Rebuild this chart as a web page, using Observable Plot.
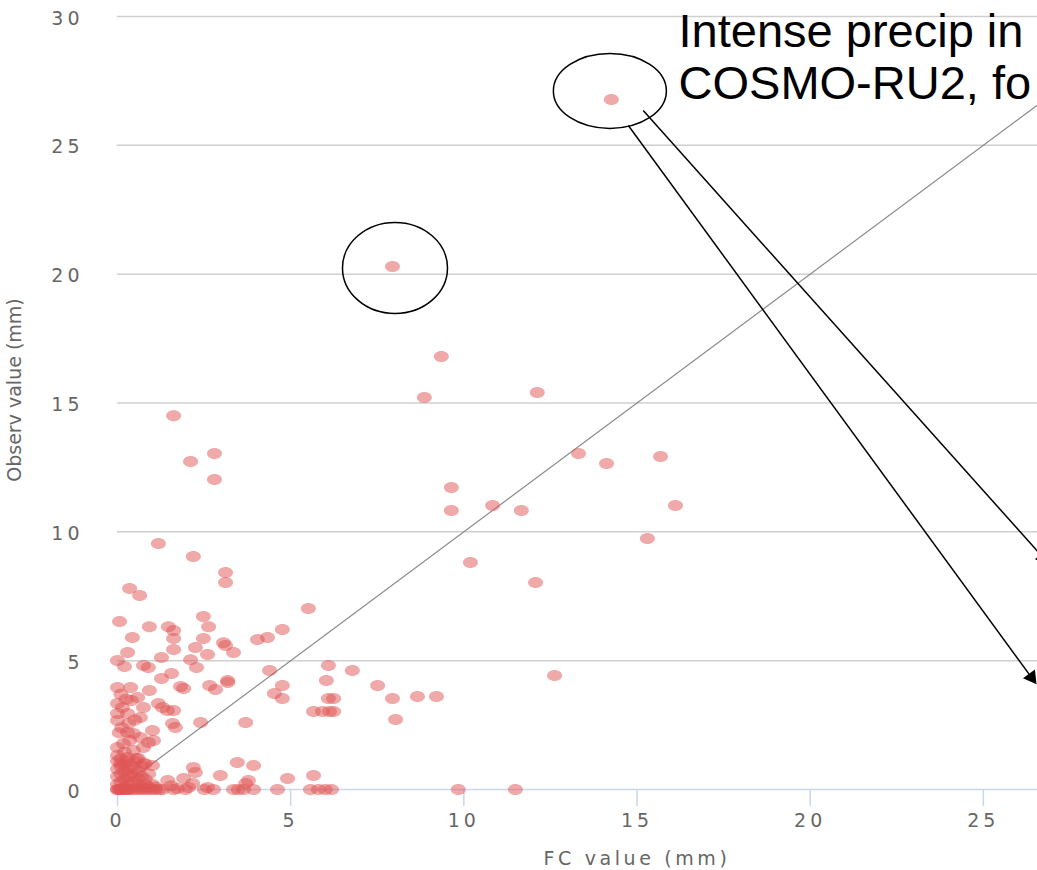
<!DOCTYPE html>
<html>
<head>
<meta charset="utf-8">
<script src="https://cdn.jsdelivr.net/npm/d3@7"></script>
<script src="https://cdn.jsdelivr.net/npm/@observablehq/plot@0.6"></script>
<style>
  html, body { margin: 0; padding: 0; background: #fff; overflow: hidden; }
  #chart svg { max-width: none !important; display: block; }
</style>
</head>
<body>
<div id="chart"></div>
<script>
// Axis extents, ticks and titles
const xDomain = [0, 30];
const yDomain = [0, 30];
const xTicks = [0, 5, 10, 15, 20, 25];
const yTicks = [0, 5, 10, 15, 20, 25, 30];
const xTitle = "FC value (mm)";
const yTitle = "Observ value (mm)";

// Forecast vs observed precipitation pairs [FC, Observ] (mm)
const outliers = [
  [14.26, 26.78], [7.94, 20.30], [9.35, 16.80], [8.86, 15.21], [12.12, 15.41],
  [1.62, 14.51], [13.31, 13.04], [14.12, 12.65], [15.68, 12.92], [2.11, 12.73],
  [2.80, 13.04], [2.80, 12.03], [9.64, 11.72], [9.64, 10.83], [10.83, 11.02],
  [11.66, 10.83], [16.11, 11.02], [15.30, 9.74], [1.18, 9.55], [2.19, 9.04],
  [10.19, 8.81], [12.07, 8.03], [3.12, 8.42], [3.12, 8.03], [0.35, 7.80],
  [0.64, 7.53], [5.51, 7.02], [12.62, 4.42]
];
const midRight = [
  [6.09, 4.81], [6.78, 4.62], [6.03, 4.23], [7.51, 4.04], [6.09, 3.53],
  [6.24, 3.53], [7.94, 3.53], [8.66, 3.61], [9.21, 3.61], [5.66, 3.03],
  [5.92, 3.03], [6.12, 3.03], [6.24, 3.03], [8.03, 2.72], [5.66, 0.54],
  [5.57, 0], [5.80, 0], [6.00, 0], [6.18, 0], [9.84, 0], [11.49, 0]
];
const midLeft = [
  [0.06, 6.52], [0.92, 6.32], [0.43, 5.90], [1.47, 6.32], [1.62, 6.17],
  [1.62, 5.86], [1.62, 5.43], [2.48, 6.71], [2.63, 6.32], [2.48, 5.86],
  [2.25, 5.51], [2.60, 5.24], [3.06, 5.70], [3.12, 5.59], [3.35, 5.32],
  [4.04, 5.82], [4.33, 5.90], [4.76, 6.21], [0.29, 5.32], [0.00, 5.01],
  [0.20, 4.77], [1.27, 5.12], [0.75, 4.81], [0.89, 4.73], [2.11, 5.04],
  [2.28, 4.73], [4.39, 4.62], [1.27, 4.31], [1.56, 4.50], [1.82, 4.00],
  [1.91, 3.92], [2.66, 4.04], [2.83, 3.88], [3.18, 4.23], [3.18, 4.15],
  [4.76, 4.04], [4.53, 3.73], [4.76, 3.53], [3.70, 2.60], [2.40, 2.60]
];
const leftBand = [
  [0.00, 3.96], [0.38, 3.96], [0.92, 3.84], [0.58, 3.57], [0.00, 3.34],
  [0.14, 3.18], [0.00, 2.95], [0.29, 2.95], [0.00, 2.68], [0.32, 2.56],
  [1.18, 3.34], [1.30, 3.18], [1.44, 3.07], [1.62, 3.07], [0.75, 3.18],
  [0.66, 2.79], [1.59, 2.56], [1.67, 2.41], [0.29, 2.21], [0.46, 2.17],
  [0.66, 2.02], [1.01, 2.29], [1.04, 1.90], [0.89, 1.82], [0.00, 1.63],
  [0.17, 1.79], [0.46, 1.51], [0.75, 1.63], [0.00, 1.32], [0.29, 1.24],
  [0.09, 1.01], [0.75, 1.01], [1.01, 0.93], [0.40, 3.45], [0.12, 2.40],
  [0.50, 2.70], [0.20, 1.45], [0.10, 3.70], [0.25, 3.50], [0.05, 2.20],
  [0.35, 1.90], [0.55, 1.20]
];
const corner = [
  [0, 0], [0, 0], [0.05, 0], [0.1, 0], [0.1, 0], [0.15, 0], [0.2, 0], [0.25, 0],
  [0.3, 0], [0.3, 0], [0.4, 0], [0.5, 0], [0.6, 0], [0.7, 0], [0.8, 0], [0.9, 0],
  [1.0, 0], [1.1, 0], [1.2, 0], [1.3, 0],
  [0, 0.2], [0.1, 0.3], [0.2, 0.1], [0.3, 0.2], [0.4, 0.3], [0.5, 0.1], [0.6, 0.2],
  [0.7, 0.1], [0.8, 0.2], [0.9, 0.1], [1.0, 0.2], [1.1, 0.1],
  [0, 0.5], [0.1, 0.6], [0.2, 0.4], [0.3, 0.5], [0.4, 0.6], [0.5, 0.5], [0.6, 0.4],
  [0.7, 0.5], [0.8, 0.4], [0.9, 0.6],
  [0, 0.8], [0.1, 0.9], [0.2, 0.7], [0.3, 0.8], [0.4, 0.9], [0.5, 0.8], [0.6, 0.7],
  [0.7, 0.9], [0.8, 1.0],
  [0, 1.1], [0.1, 1.2], [0.2, 1.0], [0.3, 1.1], [0.5, 1.1], [0.6, 1.2]
];
const lowRow = [
  [1.62, 0], [1.96, 0], [2.51, 0], [2.77, 0], [3.35, 0], [3.49, 0], [3.64, 0],
  [3.93, 0], [4.62, 0], [2.19, 0.85], [2.25, 0.66], [1.91, 0.43], [2.97, 0.54],
  [3.78, 0.35], [3.70, 0.23], [3.46, 1.05], [3.93, 0.93], [4.91, 0.43],
  [2.17, 0.23], [1.45, 0.35], [1.55, 0.15], [2.05, 0.08], [1.73, 0.04], [2.60, 0.08]
];

// Perfect-forecast reference line (FC = Observ)
const diagonal = [0, 30];

// Annotation: circled cases, arrows and note text
const circled = [[7.94, 20.30], [14.26, 26.78]];
const arrowFrom = [[14.75, 25.77], [15.18, 26.35]];
const arrowTo = [[26.39, 4.35], [26.73, 9.00]];
const noteAnchor = [16.2, 30.26];
const noteLines = ["Intense precip in", "COSMO-RU2, fo"];

const points = [...outliers, ...midRight, ...midLeft, ...leftBand, ...corner, ...lowRow]
  .map(([fc, obs]) => ({fc, obs}));

// Layout
const W = 1156, H = 870;
const mL = 117, mR = 0, mT = 16, mB = 81;
const pxPerX = (W - mL - mR) / (xDomain[1] - xDomain[0]);
const pxPerY = (H - mT - mB) / (yDomain[1] - yDomain[0]);

// Ellipse-shaped symbol (fixed radii in pixels)
function ellipse(rx, ry) {
  const k = 0.5523;
  return {
    draw(ctx) {
      ctx.moveTo(rx, 0);
      ctx.bezierCurveTo(rx, ry * k, rx * k, ry, 0, ry);
      ctx.bezierCurveTo(-rx * k, ry, -rx, ry * k, -rx, 0);
      ctx.bezierCurveTo(-rx, -ry * k, -rx * k, -ry, 0, -ry);
      ctx.bezierCurveTo(rx * k, -ry, rx, -ry * k, rx, 0);
      ctx.closePath();
    }
  };
}

const arrows = arrowFrom.map((a, i) => {
  const b = arrowTo[i];
  const vx = (b[0] - a[0]) * pxPerX, vy = -(b[1] - a[1]) * pxPerY;
  return {x1: a[0], y1: a[1], x2: b[0], y2: b[1], heading: Math.atan2(vx, -vy) * 180 / Math.PI};
});

const chart = Plot.plot({
  width: W, height: H,
  marginLeft: mL, marginRight: mR, marginTop: mT, marginBottom: mB,
  style: {fontFamily: "'DejaVu Sans', sans-serif", fontSize: "19px", background: "white"},
  x: {domain: xDomain, label: null},
  y: {domain: yDomain, label: null},
  marks: [
    Plot.gridY(yTicks.filter(t => t > 0), {stroke: "#cfcfcf", strokeOpacity: 1, strokeWidth: 1.5}),
    Plot.ruleY([0], {stroke: "#ccd6eb", strokeWidth: 1.5}),
    Plot.axisY(yTicks, {tickSize: 0, tickPadding: 34, fill: "#666", dy: 2}),
    Plot.axisX(xTicks, {tickSize: 17, tickPadding: 7, stroke: "#ccd6eb", strokeWidth: 1.5, fill: "#666"}),
    Plot.text([xTitle], {text: d => d, frameAnchor: "bottom", dy: 69, lineAnchor: "middle", fill: "#666"}),
    Plot.text([yTitle], {text: d => d, frameAnchor: "left", rotate: -90, dx: -103, dy: -13,
      textAnchor: "middle", lineAnchor: "middle", fill: "#666"}),
    Plot.line(diagonal, {x: d => d, y: d => d, stroke: "#777", strokeOpacity: 0.85, strokeWidth: 1.2}),
    Plot.dot(points, {x: "fc", y: "obs", symbol: ellipse(7.5, 5.5), r: 6,
      fill: "rgb(223,83,83)", fillOpacity: 0.5, stroke: "none"}),
    Plot.dot([circled[0]], {x: d => d[0], y: d => d[1], symbol: ellipse(52.5, 45.5), r: 40,
      fill: "none", stroke: "black", strokeWidth: 1.5, dx: 2.5, dy: 1.5}),
    Plot.dot([circled[1]], {x: d => d[0], y: d => d[1], symbol: ellipse(56.5, 37.5), r: 40,
      fill: "none", stroke: "black", strokeWidth: 1.5, dx: -1.5, dy: -8.5}),
    Plot.link(arrows, {x1: "x1", y1: "y1", x2: "x2", y2: "y2", stroke: "black", strokeWidth: 1.5}),
    Plot.dot(arrows, {x: "x2", y: "y2", symbol: "triangle", r: 5.5, fill: "black", stroke: "none",
      rotate: "heading"}),
    Plot.text([noteLines.join("\n")], {x: noteAnchor[0], y: noteAnchor[1], text: d => d,
      textAnchor: "start", lineAnchor: "top", lineHeight: 1.106, fontSize: 47,
      fontFamily: "'Liberation Sans', Arial, sans-serif", fill: "black"})
  ]
});

// Widen the axis lettering; the rotated title and the note keep normal spacing
d3.select(chart).selectAll("text").each(function () {
  const t = this.textContent;
  let spacing = "4px";
  if (t === yTitle || t.startsWith(noteLines[0])) spacing = "0px";
  else if (t === xTitle) spacing = "3.6px";
  this.style.letterSpacing = spacing;
});

document.getElementById("chart").appendChild(chart);
</script>
</body>
</html>
